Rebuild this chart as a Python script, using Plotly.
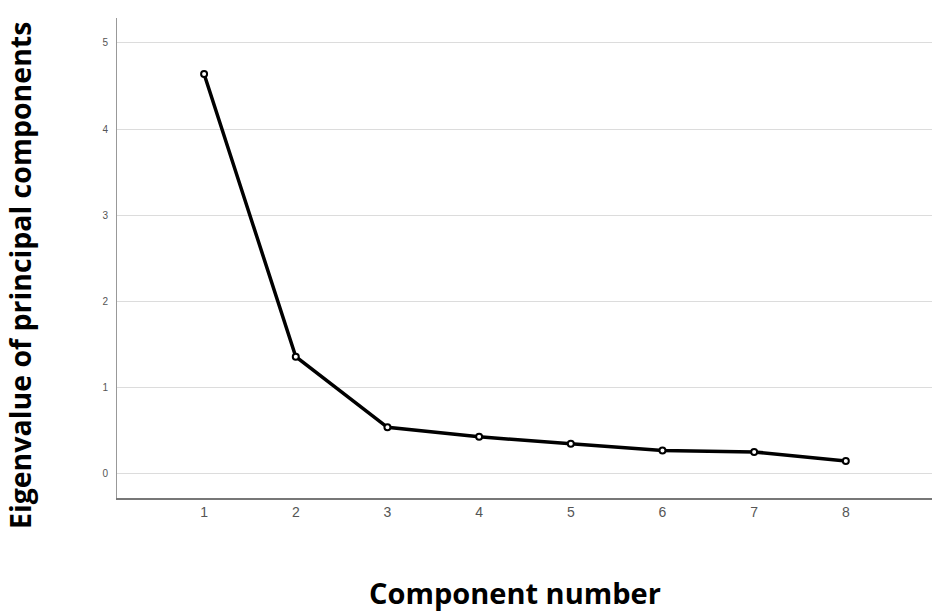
import plotly.graph_objects as go

# scree plot values
components = [1, 2, 3, 4, 5, 6, 7, 8]
eigenvalues = [4.64, 1.36, 0.54, 0.43, 0.35, 0.27, 0.255, 0.15]
y_ticks = [0, 1, 2, 3, 4, 5]

fig = go.Figure()
fig.add_trace(go.Scatter(
    x=components, y=eigenvalues, mode="lines+markers",
    line=dict(color="black", width=3.5),
    marker=dict(symbol="circle", size=6, color="white",
                line=dict(color="black", width=2)),
    showlegend=False,
))

fig.update_layout(
    width=937, height=614,
    margin=dict(l=117, r=5, t=18, b=116),
    paper_bgcolor="white", plot_bgcolor="white",
    xaxis=dict(range=[0.05, 8.94], tickvals=components, showgrid=False,
               showline=True, linecolor="#777", linewidth=1.5, zeroline=False,
               ticks="", ticklen=0,
               tickfont=dict(family="Liberation Sans", size=14, color="#555")),
    yaxis=dict(range=[-0.28, 5.29], tickvals=y_ticks, showgrid=True,
               gridcolor="#dcdcdc", gridwidth=1, zeroline=False,
               showline=True, linecolor="#999", linewidth=1,
               ticks="", ticklabelstandoff=6,
               tickfont=dict(family="Liberation Sans", size=10, color="#555")),
    annotations=[
        dict(text="Eigenvalue of principal components", xref="paper", yref="paper",
             x=-0.119, y=0.4625, xanchor="center", yanchor="middle",
             textangle=-90, showarrow=False,
             font=dict(family="Open Sans", size=28.5, color="black", weight="bold")),
        dict(text="Component number", xref="paper", yref="paper",
             x=0.488, y=-0.196, xanchor="center", yanchor="middle",
             showarrow=False,
             font=dict(family="Open Sans", size=29, color="black", weight="bold")),
    ],
)

# the page body has a default margin; remove it so the figure sits at 0,0
fig.write_html("out.html", config={"displayModeBar": False},
               post_script="document.body.style.margin='0';")
